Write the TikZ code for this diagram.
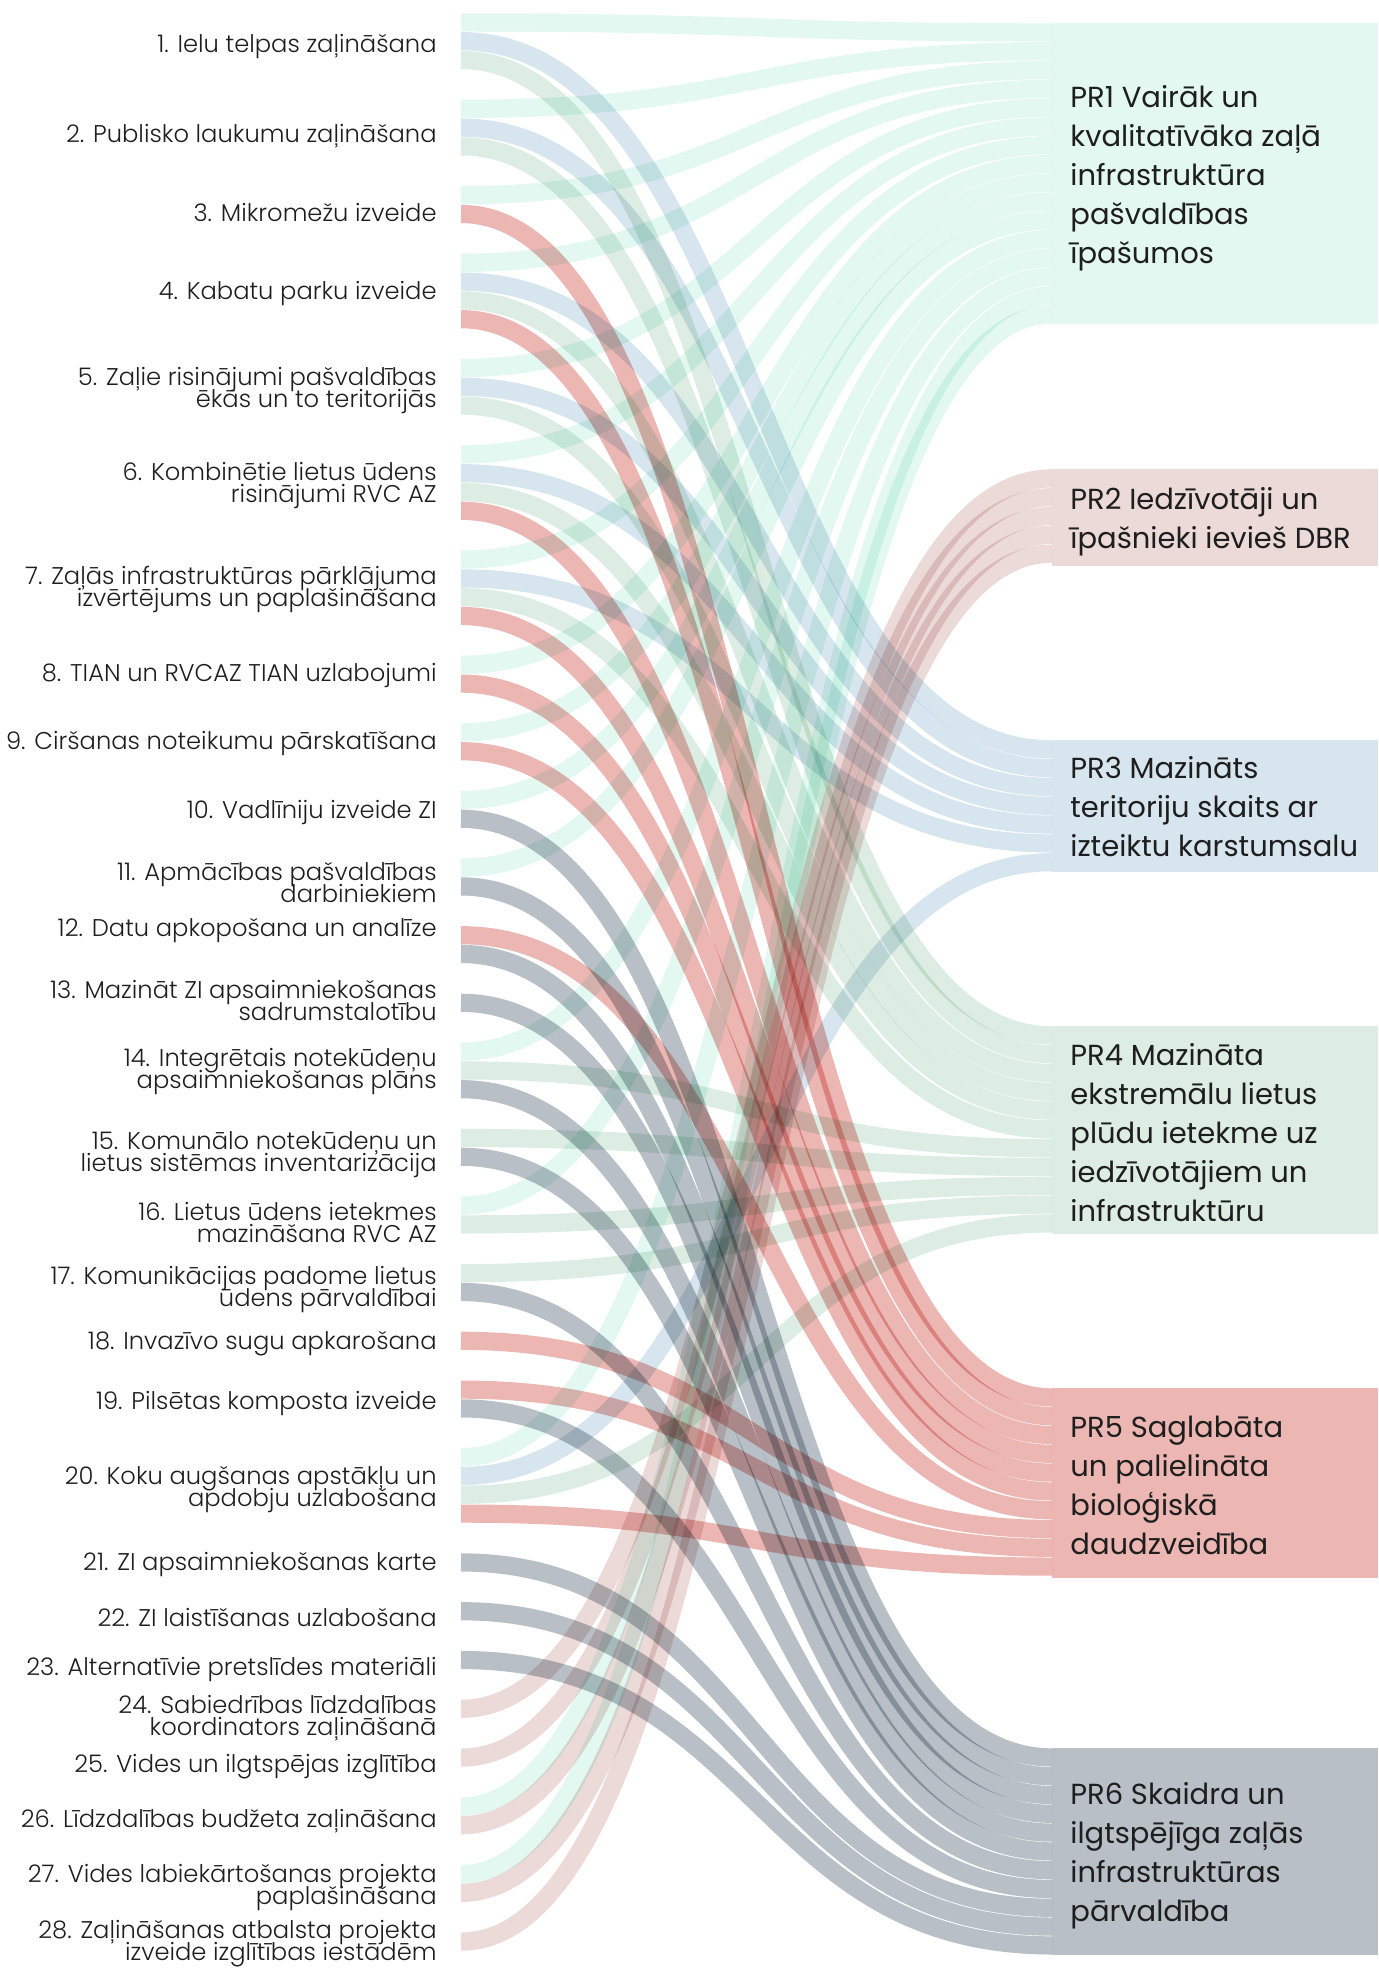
\documentclass[tikz,border=0pt]{standalone}
\usepackage{fontspec}
\setmainfont{Poppins}
\newfontfamily\lightfont{Poppins}[UprightFont=* Light]
\usetikzlibrary{calc}
\definecolor{prcol1}{HTML}{E2F8F1}
\definecolor{prcol2}{HTML}{ECDAD9}
\definecolor{prcol3}{HTML}{D7E5EE}
\definecolor{prcol4}{HTML}{DDEDE3}
\definecolor{prcol5}{HTML}{ECB6B3}
\definecolor{prcol6}{HTML}{B8BFC6}
\definecolor{textgrey}{HTML}{1E1E1E}
\newcommand\itemfont{\lightfont\fontsize{12.1}{11}\selectfont\lineskiplimit=-20pt\relax}
% all bands into one result
\newcommand\prflows[2]{%
  \begin{scope}[blend mode=multiply]
  \foreach \src/\pos [count=\slot from 0] in {#2}
    \draw[band=prcol#1] ($(s\src)+(0,{(\pos+0.5)*18.8})$) .. controls +(295.5,0) and +(-295.5,0)
        .. ($(pr#1.north west)+(0,{(\slot+0.5)*18.8})$);
  \end{scope}}
\begin{document}
\begin{tikzpicture}
[x=0.5pt, y=-0.5pt,
band/.style={line width=9.1pt, draw=#1},
itemtext/.style={anchor=east, align=right, inner sep=0pt, text=textgrey, yshift=-1.5pt,
                 font=\itemfont},
prbox/.style={fill=#1, anchor=north west, minimum width=163pt, inner sep=0pt},
prtext/.style={anchor=west, align=left, inner sep=0pt, text=textgrey,
               font=\fontsize{14.5}{19.5}\selectfont}
]
\useasboundingbox (0,0) rectangle (1378,1968);
% left side: top of each measure
\foreach \i/\k in {1/0,2/3,3/6,4/8,5/12,6/15,7/19,8/23,9/25,10/27,11/29,12/31,13/33,14/34,
                   15/37,16/39,17/41,18/43,19/44,20/46,21/50,22/51,23/52,24/53,25/54,26/55,27/57,28/59}
  \coordinate (s\i) at (461,{13+\k*18.8+(\i-1)*30});
% right side: results
\node[prbox=prcol1, minimum height=150.4pt] (pr1) at (1052,23) {};
\node[prbox=prcol2, minimum height=48.5pt] (pr2) at (1052,469) {};
\node[prbox=prcol3, minimum height=65.8pt] (pr3) at (1052,740) {};
\node[prbox=prcol4, minimum height=104pt] (pr4) at (1052,1026) {};
\node[prbox=prcol5, minimum height=95pt] (pr5) at (1052,1388) {};
\node[prbox=prcol6, minimum height=103.4pt] (pr6) at (1052,1748) {};
% bands: measure/position in measure
\prflows{1}{1/0,2/0,3/0,4/0,5/0,6/0,7/0,8/0,9/0,10/0,11/0,14/0,16/0,20/0,26/0,27/0}
\prflows{2}{24/0,25/0,26/1,27/1,28/0}
\prflows{3}{1/1,2/1,4/1,5/1,6/1,7/1,20/1}
\prflows{4}{1/2,2/2,4/2,5/2,6/2,7/2,14/1,15/0,16/1,17/0,20/2}
\prflows{5}{3/1,4/3,6/3,7/3,8/1,9/1,12/0,18/0,19/0,20/3}
\prflows{6}{10/1,11/1,12/1,13/0,14/2,15/1,17/1,19/1,21/0,22/0,23/0}
\node[prtext] (t1) at ([xshift=9pt,yshift=-2pt]pr1.west) {PR1 Vairāk un\\kvalitatīvāka zaļā\\infrastruktūra\\pašvaldības\\īpašumos};
\node[prtext] (t2) at ([xshift=9pt,yshift=-2pt]pr2.west) {PR2 Iedzīvotāji un\\īpašnieki ievieš DBR};
\node[prtext] (t3) at ([xshift=9pt]pr3.west) {PR3 Mazināts\\teritoriju skaits ar\\izteiktu karstumsalu};
\node[prtext] (t4) at ([xshift=9pt,yshift=-1pt]pr4.west) {PR4 Mazināta\\ekstremālu lietus\\plūdu ietekme uz\\iedzīvotājiem un\\infrastruktūru};
\node[prtext] (t5) at ([xshift=9pt,yshift=-1pt]pr5.west) {PR5 Saglabāta\\un palielināta\\bioloģiskā\\daudzveidība};
\node[prtext] (t6) at ([xshift=9pt,yshift=-2pt]pr6.west) {PR6 Skaidra un\\ilgtspējīga zaļās\\infrastruktūras\\pārvaldība};
% measure labels
\foreach \i/\yy/\txt in {1/43.9/{1. Ielu telpas zaļināšana},
    2/133/{2. Publisko laukumu zaļināšana},
    3/209.6/{3. Mikromežu izveide},
    4/291/{4. Kabatu parku izveide},
    5/387.8/{5. Zaļie risinājumi pašvaldības\\ēkās un to teritorijās},
    6/482.5/{6. Kombinētie lietus ūdens\\risinājumi RVC AZ},
    7/586.7/{7. Zaļās infrastruktūras pārklājuma\\izvērtējums un paplašināšana},
    8/672.7/{8. TIAN un RVCAZ TIAN uzlabojumi},
    9/740.5/{9. Ciršanas noteikumu pārskatīšana},
    10/809.5/{10. Vadlīniju izveide ZI},
    11/879.8/{11. Apmācības pašvaldības\\darbiniekiem},
    12/927.4/{12. Datu apkopošana un analīze},
    13/997.7/{13. Mazināt ZI apsaimniekošanas\\sadrumstalotību},
    14/1068.6/{14. Integrētais notekūdeņu\\apsaimniekošanas plāns},
    15/1152/{15. Komunālo notekūdeņu un\\lietus sistēmas inventarizācija},
    16/1219.2/{16. Lietus ūdens ietekmes\\mazināšana RVC AZ},
    17/1287/{17. Komunikācijas padome lietus\\ūdens pārvaldībai},
    18/1340.3/{18. Invazīvo sugu apkarošana},
    19/1400.6/{19. Pilsētas komposta izveide},
    20/1486.5/{20. Koku augšanas apstākļu un\\apdobju uzlabošana},
    21/1561.2/{21. ZI apsaimniekošanas karte},
    22/1614/{22. ZI laistīšanas uzlabošana},
    23/1666.6/{23. Alternatīvie pretslīdes materiāli},
    24/1715/{24. Sabiedrības līdzdalības\\koordinators zaļināšanā},
    25/1763.3/{25. Vides un ilgtspējas izglītība},
    26/1818.5/{26. Līdzdalības budžeta zaļināšana},
    27/1884.4/{27. Vides labiekārtošanas projekta\\paplašināšana},
    28/1941/{28. Zaļināšanas atbalsta projekta\\izveide izglītības iestādēm}}
  \node[itemtext] (l\i) at (437,\yy) {\txt};
\end{tikzpicture}
\end{document}
